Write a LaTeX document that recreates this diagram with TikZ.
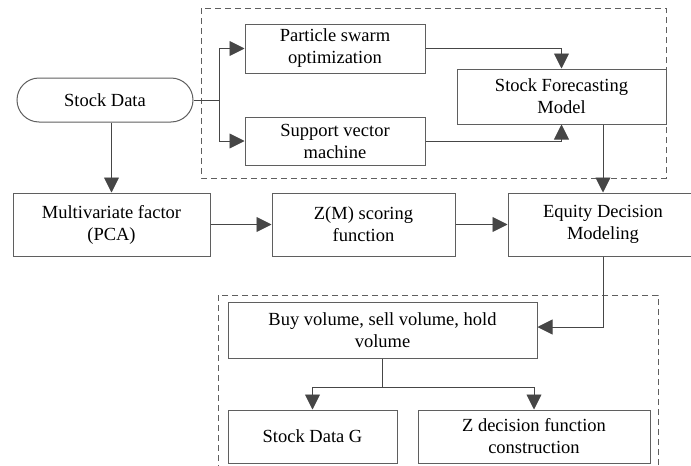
\documentclass[tikz,border=0pt]{standalone}
\usepackage{fontspec}
\setmainfont{Liberation Serif}
\usetikzlibrary{arrows.meta,shapes.misc}
\definecolor{linegray}{RGB}{70,70,70}
\definecolor{boxgray}{RGB}{95,95,95}
\tikzset{
  box/.style={draw=boxgray, line width=1pt, rectangle, align=center, inner sep=0pt,
    font=\fontsize{18.5}{22}\selectfont},
  conn/.style={draw=linegray, line width=0.9pt},
  arr/.style={conn, -{Triangle[length=15pt,width=15pt]}},
  group/.style={draw=boxgray, line width=0.9pt, dash pattern=on 6pt off 4pt},
}
\begin{document}
\begin{tikzpicture}[x=1pt,y=-1pt]
\useasboundingbox (0,0) rectangle (691,466);
% groups
\draw[group] (201,8) rectangle (666,178);
\draw[group] (218,295) rectangle (658,480);
% nodes
\node[box, rounded rectangle, minimum width=176pt, minimum height=44pt] (sd) at (105,100) {Stock Data};
\node[box, minimum width=180pt, minimum height=49pt] (pso) at (335,48.5) {Particle swarm\\optimization};
\node[box, minimum width=180pt, minimum height=48pt] (svm) at (335,141) {Support vector\\machine};
\node[box, minimum width=209pt, minimum height=55pt] (sfm) at (561.5,96.5) {Stock Forecasting\\Model};
\node[box, minimum width=197pt, minimum height=63pt] (mf) at (111.5,224.5) {Multivariate factor\\(PCA)};
\node[box, minimum width=183pt, minimum height=63pt] (zm) at (363.5,224.5) {Z(M) scoring\\function};
\node[box, minimum width=190pt, minimum height=63pt] (eq) at (603,224.5) {Equity Decision\\Modeling};
\node[box, minimum width=309pt, minimum height=56pt] (buy) at (382.5,330) {Buy volume, sell volume, hold\\volume};
\node[box, minimum width=169pt, minimum height=53pt] (sdg) at (312.5,436.5) {Stock Data G};
\node[box, minimum width=232pt, minimum height=53pt] (zd) at (534,436.5) {Z decision function\\construction};
% connectors
\coordinate (br) at (219,100);
\draw[conn] (sd.east) -- (br);
\draw[arr] (br) |- (pso.west);
\draw[arr] (br) |- (svm.west);
\draw[arr] (pso.east) -| (sfm.north);
\draw[arr] (svm.east) -| (sfm.south);
\draw[arr] (sfm.south -| eq.north) -- (eq.north);
\draw[arr] (sd.south -| mf.north) -- (mf.north);
\draw[arr] (mf.east) -- (zm.west);
\draw[arr] (zm.east) -- (eq.west);
\draw[arr] (eq.south) |- ([yshift=3pt]buy.east);
\coordinate (split) at (382.5,387);
\draw[conn] (buy.south) -- (split);
\draw[arr] (split) -| (sdg.north);
\draw[arr] (split) -| (zd.north);
\end{tikzpicture}
\end{document}
